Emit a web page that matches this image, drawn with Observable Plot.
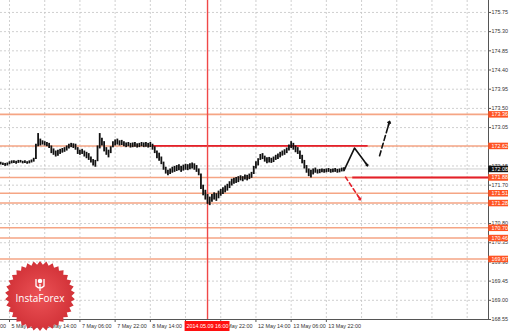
<!DOCTYPE html>
<html>
<head>
<meta charset="utf-8">
<script src="https://cdn.jsdelivr.net/npm/d3@7"></script>
<script src="https://cdn.jsdelivr.net/npm/@observablehq/plot@0.6"></script>
<style>
  html, body { margin: 0; padding: 0; background: #fff; }
  svg { display: block; }
</style>
</head>
<body>
<div id="chart"></div>
<script>
// ---- DATA (H1 bars, index = hourly bar number) ----
const lows = [172.17,172.16,172.14,172.15,172.18,172.20,172.21,172.19,172.21,172.22,172.20,172.21,172.19,172.20,172.22,172.24,
  172.30,172.60,172.62,172.64,172.62,172.60,172.56,172.44,172.40,172.36,172.38,172.42,172.45,172.47,172.50,172.55,
  172.58,172.56,172.52,172.42,172.40,172.42,172.36,172.32,172.28,172.22,172.15,172.12,172.25,172.55,172.62,172.48,
  172.40,172.34,172.44,172.58,172.62,172.64,172.62,172.63,172.60,172.58,172.60,172.57,172.58,172.59,172.57,172.58,
  172.60,172.58,172.59,172.57,172.58,172.52,172.44,172.32,172.26,172.18,172.05,171.96,171.92,171.95,171.98,172.00,
  172.02,172.04,172.00,172.03,172.05,172.04,172.06,172.08,172.05,172.00,171.92,171.60,171.45,171.35,171.25,171.22,
  171.30,171.35,171.32,171.38,171.44,171.48,171.52,171.56,171.62,171.68,171.72,171.74,171.76,171.80,171.78,171.82,
  171.80,171.83,171.86,171.95,172.08,172.15,172.28,172.30,172.24,172.20,172.22,172.21,172.23,172.28,172.30,172.34,
  172.38,172.40,172.44,172.50,172.56,172.52,172.46,172.42,172.30,172.20,172.08,171.98,171.90,171.87,171.94,171.98,
  171.96,171.97,171.99,171.98,171.99,172.00,171.98,171.99,172.00,171.98,171.99,172.01,172.03];
const highs = [172.24,172.22,172.21,172.22,172.25,172.27,172.27,172.26,172.28,172.28,172.26,172.27,172.25,172.27,172.29,172.33,
  172.66,172.91,172.78,172.74,172.72,172.70,172.68,172.62,172.55,172.50,172.52,172.54,172.56,172.58,172.62,172.66,
  172.68,172.67,172.66,172.58,172.52,172.54,172.50,172.47,172.44,172.36,172.30,172.28,172.62,172.91,172.80,172.72,
  172.58,172.52,172.60,172.72,172.76,172.78,172.74,172.75,172.72,172.69,172.70,172.68,172.69,172.70,172.67,172.68,
  172.70,172.69,172.70,172.68,172.70,172.66,172.60,172.50,172.45,172.36,172.24,172.12,172.05,172.08,172.12,172.14,
  172.16,172.18,172.14,172.17,172.19,172.18,172.20,172.22,172.20,172.16,172.08,171.96,171.70,171.58,171.48,171.42,
  171.48,171.52,171.50,171.56,171.60,171.64,171.68,171.72,171.78,171.84,171.86,171.88,171.90,171.92,171.90,171.94,
  171.93,171.96,172.00,172.14,172.25,172.32,172.42,172.44,172.38,172.34,172.35,172.33,172.36,172.40,172.43,172.47,
  172.50,172.53,172.57,172.64,172.72,172.68,172.62,172.58,172.50,172.40,172.28,172.16,172.08,172.05,172.08,172.10,
  172.06,172.07,172.08,172.07,172.08,172.09,172.07,172.08,172.09,172.07,172.08,172.10,172.11];

const yTicks = [175.75,175.30,174.85,174.40,173.95,173.50,173.05,172.60,172.15,171.70,171.25,170.80,170.35,169.90,169.45,169.00,168.55];
const xTickBars = [-12,4,20,36,52,68,84,100,116,132,148];
const xTickLabels = ["5 May 06:00","5 May 22:00","6 May 14:00","7 May 06:00","7 May 22:00","8 May 14:00","9 May 06:00","9 May 22:00","12 May 14:00","13 May 06:00","13 May 22:00"];
const xGridBars = [4,20,36,52,68,84,100,116,132,148,164,180,196,212];

const levels = [173.36,172.62,171.88,171.51,171.28,170.70,170.46,169.97];
const levelLabels = ["173.36","172.62","171.88","171.51","171.28","170.70","170.46","169.97"];
const currentPrice = 172.08;
const redLevels = [{y:172.62, from:69, to:167}, {y:171.88, from:160, to:221.7}];
const crossBar = 94;
const crossLabel = "2014.05.09 16:00";

// hand-drawn arrows: [bar, price] points
const blackSolid = [[156,172.04],[160.8,172.57],[166.7,172.16]];
const blackDashed = [[172.2,172.39],[176.7,173.19]];
const redDashed = [[156.7,171.89],[163.5,171.36]];

// ---- CHART ----
const X0 = -0.1, X1 = 221.7, Y0 = 168.55, Y1 = 176.03;
const fmt = d => d.toFixed(2);
const font = "Liberation Sans, Arial, sans-serif";
const idx = d3.range(lows.length);

function headSeg(p) { // short last piece for a solid arrow head
  const a = p[p.length-2], b = p[p.length-1];
  return [{x1: a[0] + (b[0]-a[0])*0.85, y1: a[1] + (b[1]-a[1])*0.85, x2: b[0], y2: b[1]}];
}

const chart = Plot.plot({
  width: 510, height: 332,
  marginLeft: 0, marginRight: 22, marginTop: 0, marginBottom: 13,
  x: {domain: [X0, X1], axis: null},
  y: {domain: [Y0, Y1], axis: null},
  style: {background: "#fff", fontFamily: font, overflow: "hidden"},
  marks: [
    Plot.ruleY(yTicks, {stroke: "#c4c4c4", strokeDasharray: "2,2", strokeWidth: 0.8}),
    Plot.ruleX(xGridBars, {stroke: "#c4c4c4", strokeDasharray: "2,2", strokeWidth: 0.8}),
    Plot.ruleY(levels, {stroke: "#f5a584", strokeWidth: 1.6}),
    Plot.ruleY([currentPrice], {stroke: "#d0d0d0", strokeWidth: 1}),
    Plot.ruleY(redLevels, {y: "y", x1: "from", x2: "to", stroke: "#e3202b", strokeWidth: 1.8}),
    Plot.ruleX([crossBar], {x: d => d, stroke: "#f04848", strokeWidth: 1.4}),
    Plot.ruleX(idx, {x: i => i, y1: i => lows[i], y2: i => highs[i], stroke: "#111", strokeWidth: 1.8}),
    // arrows
    Plot.line(blackSolid, {x: d => d[0], y: d => d[1], stroke: "#111", strokeWidth: 1.6}),
    Plot.arrow(headSeg(blackSolid), {x1: "x1", y1: "y1", x2: "x2", y2: "y2", stroke: "#111", strokeWidth: 1.6, headLength: 8, headAngle: 90}),
    Plot.line(blackDashed, {x: d => d[0], y: d => d[1], stroke: "#111", strokeWidth: 1.6, strokeDasharray: "5,3"}),
    Plot.arrow(headSeg(blackDashed), {x1: "x1", y1: "y1", x2: "x2", y2: "y2", stroke: "#111", strokeWidth: 1.6, headLength: 8, headAngle: 90}),
    Plot.line(redDashed, {x: d => d[0], y: d => d[1], stroke: "#e3202b", strokeWidth: 1.6, strokeDasharray: "4,3"}),
    Plot.arrow(headSeg(redDashed), {x1: "x1", y1: "y1", x2: "x2", y2: "y2", stroke: "#e3202b", strokeWidth: 1.6, headLength: 7, headAngle: 90}),
    // frame lines
    Plot.ruleX([X1], {stroke: "#555", strokeWidth: 1}),
    Plot.ruleY([Y0], {stroke: "#555", strokeWidth: 1}),
    // y ticks + labels
    Plot.ruleY(yTicks, {x1: X1, x2: X1 + 1.4, stroke: "#555"}),
    Plot.text(yTicks, {x: X1, y: d => d, text: fmt, textAnchor: "start", dx: 3, fontSize: 5.4, fill: "#333"}),
    // level labels
    Plot.ruleY(levels, {x1: X1 + 0.1, x2: X1 + 9.1, stroke: "#ff5322", strokeWidth: 6.5}),
    Plot.text(levelLabels, {x: X1, y: (d, i) => levels[i], text: d => d, textAnchor: "start", dx: 3, fontSize: 5.4, fill: "#fff"}),
    Plot.ruleY([currentPrice], {x1: X1 + 0.1, x2: X1 + 9.1, stroke: "#111", strokeWidth: 6.5}),
    Plot.text([currentPrice], {x: X1, y: d => d, text: fmt, textAnchor: "start", dx: 3, fontSize: 5.4, fill: "#fff"}),
    // x ticks + labels
    Plot.ruleX(xTickBars, {y1: Y0, y2: Y0 - 0.07, stroke: "#555"}),
    Plot.text(xTickLabels, {x: (d, i) => xTickBars[i], y: Y0, text: d => d, textAnchor: "start", dx: 2, dy: 7, fontSize: 5.4, fill: "#333", ariaLabel: "xlabels"}),
    Plot.ruleY([Y0 - 0.155], {x1: crossBar - 10.2, x2: crossBar + 10.2, stroke: "#ff1010", strokeWidth: 10, ariaLabel: "xcross"}),
    Plot.text([crossLabel], {x: crossBar, y: Y0, text: d => d, dy: 7, fontSize: 5.4, fill: "#fff", ariaLabel: "xcrosstext"})
  ]
});
document.getElementById("chart").appendChild(chart);

// ---- InstaForex logo (decoration) ----
const svg = d3.select(chart);
const defs = svg.append("defs");
const grad = defs.append("radialGradient").attr("id", "lg");
grad.append("stop").attr("offset", "0%").attr("stop-color", "#ec5256");
grad.append("stop").attr("offset", "100%").attr("stop-color", "#d23238");
const cx = 40, cy = 296, R = 35, r = 31.5, n = 34;
const pts = d3.range(n * 2).map(k => {
  const a = Math.PI * k / n - Math.PI / 2;
  const rr = k % 2 ? r : R;
  return [cx + rr * Math.cos(a), cy + rr * Math.sin(a)];
});
const logo = svg.append("g");
logo.append("path").attr("d", "M" + pts.join("L") + "Z").attr("fill", "url(#lg)");
const ic = logo.append("g").attr("stroke", "#fff").attr("fill", "none").attr("stroke-width", 1.3);
ic.append("circle").attr("cx", cx).attr("cy", 281).attr("r", 1.6).attr("fill", "#fff");
ic.append("path").attr("d", `M${cx-4},279 L${cx-4},286 Q${cx},290 ${cx+4},286 L${cx+4},279 M${cx},284 L${cx},291`);
logo.append("text").attr("x", cx).attr("y", 302).attr("text-anchor", "middle")
  .attr("font-size", 10).attr("font-family", "Open Sans, Liberation Sans, sans-serif").attr("fill", "#fff").text("InstaForex");
// keep axis labels on top of logo
svg.selectAll('g[aria-label="xlabels"], g[aria-label="xcross"], g[aria-label="xcrosstext"]').raise();
</script>
</body>
</html>
